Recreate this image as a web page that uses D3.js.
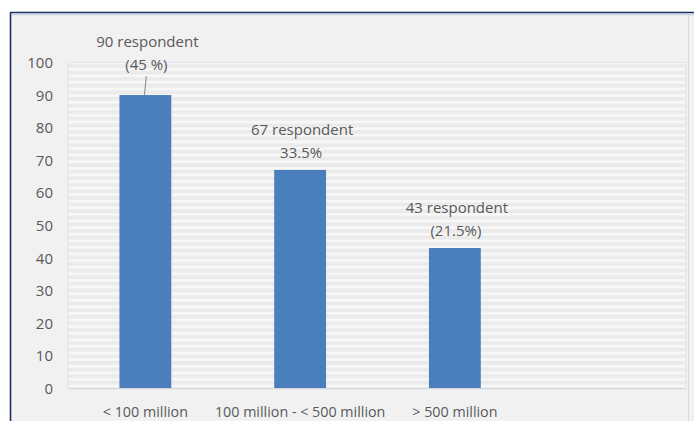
<!DOCTYPE html>
<html>
<head>
<meta charset="utf-8">
<script src="https://cdn.jsdelivr.net/npm/d3@7"></script>
<style>
  html, body { margin: 0; padding: 0; background: #ffffff; }
  svg { display: block; }
  text { font-family: "Open Sans", "Noto Sans", sans-serif; fill: #595959; }
</style>
</head>
<body>
<svg id="chart" width="694" height="421"></svg>
<script>
// Revenue bands and respondent counts
const categories = ["< 100 million", "100 million - < 500 million", "> 500 million"];
const respondents = [90, 67, 43];
const countLabels = ["90 respondent", "67 respondent", "43 respondent"];
const shareLabels = ["(45 %)", "33.5%", "(21.5%)"];
const yTicks = [0, 10, 20, 30, 40, 50, 60, 70, 80, 90, 100];

const svg = d3.select("#chart");
const W = 694, H = 421;
const plot = { left: 68, right: 687, top: 62.5, bottom: 388 };

// Chart frame
svg.append("rect").attr("x", 10).attr("y", 12).attr("width", W - 10).attr("height", H - 12)
  .attr("fill", "#f1f1f2");
svg.append("line").attr("x1", 10).attr("x2", W).attr("y1", 12.5).attr("y2", 12.5)
  .attr("stroke", "#1f2f5c").attr("stroke-width", 1.6);
svg.append("line").attr("x1", 10.5).attr("x2", 10.5).attr("y1", 12).attr("y2", H)
  .attr("stroke", "#1f2f5c").attr("stroke-width", 1.6);
svg.append("line").attr("x1", 12).attr("x2", W).attr("y1", 14.5).attr("y2", 14.5)
  .attr("stroke", "#c9d3e6").attr("stroke-width", 1.5);
svg.append("line").attr("x1", 688.5).attr("x2", 688.5).attr("y1", 15).attr("y2", H)
  .attr("stroke", "#d6d9de").attr("stroke-width", 1);

// Horizontal striped fill for the plot area
const defs = svg.append("defs");
const pat = defs.append("pattern").attr("id", "stripes")
  .attr("patternUnits", "userSpaceOnUse").attr("width", 8).attr("height", 6.6);
pat.append("rect").attr("width", 8).attr("height", 6.6).attr("fill", "#ebebec");
pat.append("rect").attr("y", 2).attr("width", 8).attr("height", 2.4).attr("fill", "#f9f9f9");

// Scales: the band axis reserves a fourth, empty slot on the right
const x = d3.scaleBand()
  .domain([...categories, ""])
  .range([plot.left, plot.right])
  .paddingInner(0.665)
  .paddingOuter(0.3325);
const y = d3.scaleLinear().domain([0, 100]).range([plot.bottom, plot.top]);

svg.append("rect")
  .attr("x", plot.left).attr("y", y(100))
  .attr("width", plot.right - plot.left - 1).attr("height", y(0) - y(100) + 1)
  .attr("fill", "url(#stripes)")
  .attr("stroke", "#dfe4ec").attr("stroke-width", 1);

// Y axis (labels only)
const yAxis = d3.axisLeft(y).tickValues(yTicks).tickSize(0).tickPadding(0);
const yg = svg.append("g").attr("transform", "translate(53,0)").call(yAxis);
yg.select(".domain").remove();
yg.selectAll("text").attr("font-size", 15).attr("dy", "0.35em").style("fill", "#595959");

// X axis baseline and labels
svg.append("line").attr("x1", plot.left).attr("x2", plot.right - 1)
  .attr("y1", y(0) + 0.5).attr("y2", y(0) + 0.5).attr("stroke", "#d4d7dc");
const xAxis = d3.axisBottom(x).tickValues(categories).tickSize(0).tickPadding(0);
const xg = svg.append("g").attr("transform", `translate(0,${y(0) + 29})`).call(xAxis);
xg.select(".domain").remove();
xg.selectAll("text").attr("font-size", 14.3).attr("dy", "0").style("fill", "#595959");

// Bars
svg.append("g").selectAll("rect").data(respondents).join("rect")
  .attr("x", (d, i) => x(categories[i]))
  .attr("y", d => y(d))
  .attr("width", x.bandwidth())
  .attr("height", d => y(0) - y(d))
  .attr("fill", "#4a7ebd");

// Data labels; the first one sits higher with a leader line
const lift = [13, 0, 0];
const labels = svg.append("g");
respondents.forEach((v, i) => {
  const cx = x(categories[i]) + x.bandwidth() / 2;
  const base = y(v) - 17 - lift[i];
  labels.append("text").attr("x", cx + 2).attr("y", base - 23)
    .attr("text-anchor", "middle").attr("font-size", 15).attr("dy", "0.35em")
    .text(countLabels[i]);
  labels.append("text").attr("x", cx + 1).attr("y", base)
    .attr("text-anchor", "middle").attr("font-size", 15).attr("dy", "0.35em")
    .text(shareLabels[i]);
  if (lift[i] > 0) {
    labels.append("line")
      .attr("x1", cx + 1).attr("y1", base + 11)
      .attr("x2", cx - 1).attr("y2", y(v))
      .attr("stroke", "#8a8a8a").attr("stroke-width", 1);
  }
});
</script>
</body>
</html>
